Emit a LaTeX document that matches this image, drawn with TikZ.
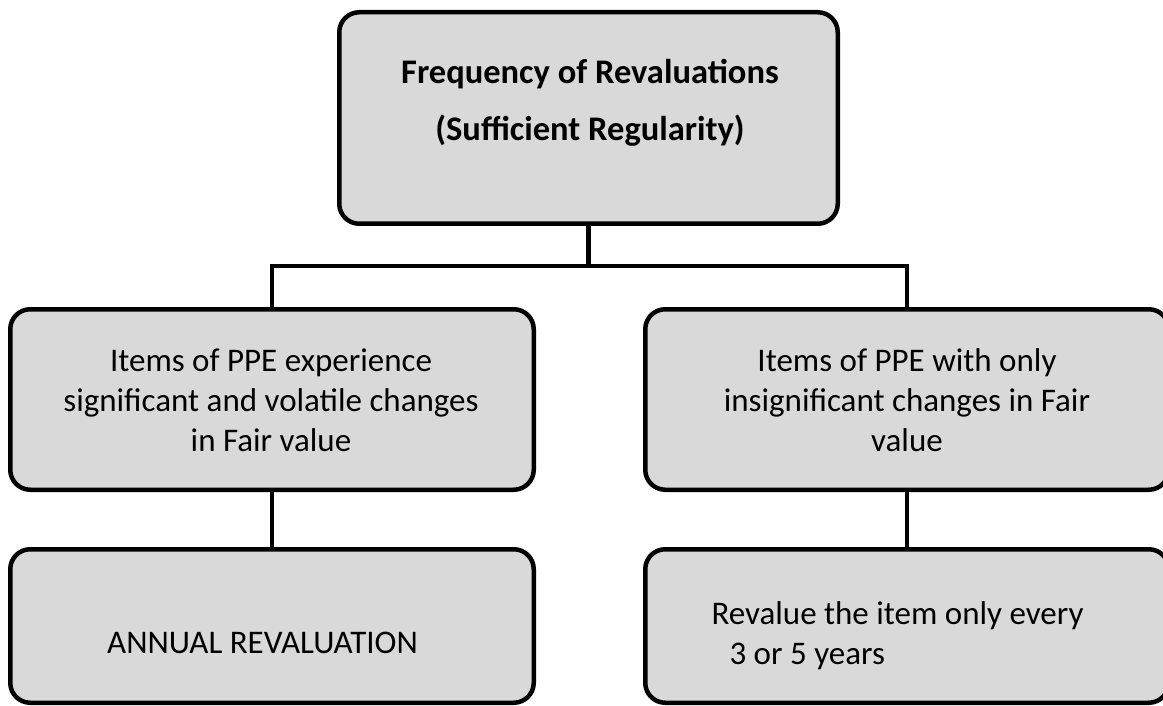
\documentclass[tikz,border=0pt]{standalone}
\usepackage{fontspec}
\setmainfont{Carlito}
\begin{document}
\begin{tikzpicture}[x=1pt,y=-1pt,
  box/.style={draw=black, line width=4.5pt, fill=boxgray, rounded corners=20pt,
    inner sep=0pt, minimum width=523.5pt, minimum height=180.5pt},
  link/.style={draw=black, line width=4.5pt},
  txt/.style={inner sep=0pt, align=center, font=\fontsize{33}{40}\selectfont},
]
\definecolor{boxgray}{HTML}{D9D9D9}
\useasboundingbox (0,0) rectangle (1163,706);

% boxes
\node[box, minimum width=498.5pt, minimum height=211.5pt] (top) at (588.5,118) {};
\node[box] (lm) at (272,399.5) {};
\node[box] (rm) at (907,399.5) {};
\node[box, minimum height=153.5pt] (lb) at (272,626) {};
\node[box, minimum height=153.5pt] (rb) at (907,626) {};

% connectors
\coordinate (bus) at (588.5,266);
\draw[link] (top.south) -- (bus);
\draw[link] (lm.north) |- (bus) -| (rm.north);
\draw[link] (lm.south) -- (lb.north);
\draw[link] (rm.south) -- (rb.north);

% texts
\node[txt, font=\fontsize{34.5}{57}\selectfont\bfseries] (ttop) at (590,103)
  {Frequency of Revaluations\\(Sufficient Regularity)};
\node[txt] (tlm) at (271,400)
  {Items of PPE experience\\significant and volatile changes\\in Fair value};
\node[txt] (trm) at (907,400)
  {Items of PPE with only\\insignificant changes in Fair\\value};
\node[txt, anchor=base west] (tlb) at (107,653) {ANNUAL REVALUATION};
\node[txt, align=left] (trb) at (897.5,636)
  {Revalue the item only every\\\hspace*{18pt}3 or 5 years};
\end{tikzpicture}
\end{document}
